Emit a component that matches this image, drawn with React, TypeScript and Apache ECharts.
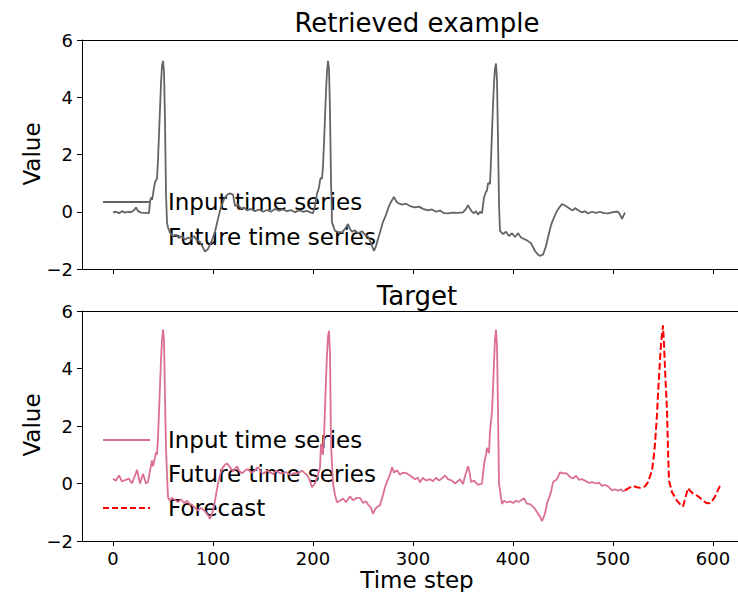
import React, { useEffect, useRef } from "react";
import * as echarts from "echarts";

const xTicks = [0, 100, 200, 300, 400, 500, 600];
const yTicks = [-2, 0, 2, 4, 6];

const retrievedInput: [number, number][] = [
  [0,-0.02],[3,0.0],[6,-0.05],[9,0.02],[12,-0.03],[15,0.0],[18,-0.02],[21,0.05],[23,0.15],[25,0.02],[28,-0.03],[32,-0.04],[36,-0.05],[37,0.35],[38,0.5],[39,0.42],[40,0.6],[41,0.85],[42,1.03],[43,1.1],[44,1.15],[45,1.8],[46,2.7],[47,3.6],[48,4.5],[49,5.1],[50,5.27],[51,4.9],[52,3.2],[53,0.63],[54,-0.37],[55,-0.55],[57,-0.73],[60,-0.85],[63,-0.8],[66,-0.92],[69,-0.85],[72,-0.98],[75,-0.9],[78,-0.95],[81,-0.85],[84,-1.0],[87,-1.05],[90,-1.25],[92,-1.39],[95,-1.3],[97,-1.15],[99,-1.0],[102,-0.7],[105,-0.25],[107,0.04],[110,0.35],[112,0.5],[115,0.62],[117,0.64],[120,0.6],[122,0.2],[125,0.25],[128,0.1],[131,0.15],[134,0.05],[138,0.1],[142,0.02],[146,0.08],[150,0.0],[154,0.06],[158,0.0],[162,0.1],[166,0.04],[170,0.08],[174,0.02],[178,0.06],[182,-0.02],[186,0.05],[190,0.0],[194,0.03],[198,-0.03],[200,-0.05],[202,0.2],[204,0.63],[206,0.85],[207,1.09],[208,1.2],[209,1.15],[210,1.6],[211,2.4],[212,3.3],[213,4.2],[214,4.9],[215,5.27],[216,5.0],[217,3.5],[218,1.1],[219,-0.37],[222,-0.67],[225,-0.7],[229,-0.72],[232,-0.6],[235,-0.43],[237,-0.6],[239,-0.7],[242,-0.65],[245,-0.75],[249,-0.68],[252,-0.8],[255,-0.87],[258,-1.1],[261,-1.37],[263,-1.2],[265,-0.95],[268,-0.6],[270,-0.35],[272,-0.2],[275,0.1],[277,0.28],[279,0.4],[281,0.52],[283,0.38],[285,0.3],[289,0.25],[293,0.28],[297,0.2],[302,0.15],[306,0.18],[310,0.1],[315,0.05],[319,0.08],[323,0.0],[327,0.04],[331,-0.05],[335,-0.06],[340,-0.03],[345,-0.04],[350,-0.02],[353,0.1],[355,0.23],[357,0.1],[359,0.0],[361,-0.05],[363,0.02],[365,-0.1],[367,0.0],[369,-0.05],[371,0.5],[373,0.7],[374,0.74],[375,0.99],[376,1.0],[377,0.96],[378,1.8],[379,2.8],[380,3.7],[381,4.5],[382,5.0],[383,5.18],[384,4.6],[385,2.5],[386,0.3],[387,-0.67],[390,-0.78],[393,-0.7],[396,-0.85],[399,-0.75],[402,-0.88],[405,-0.75],[408,-0.9],[411,-0.95],[414,-1.0],[418,-1.1],[422,-1.37],[425,-1.5],[427,-1.54],[430,-1.5],[433,-1.2],[435,-0.9],[437,-0.6],[439,-0.37],[441,-0.2],[444,0.03],[447,0.18],[449,0.27],[452,0.22],[455,0.15],[458,0.08],[460,0.05],[462,0.13],[465,0.05],[469,-0.02],[472,0.02],[475,-0.06],[479,0.0],[483,-0.04],[487,0.0],[491,-0.05],[495,-0.06],[499,-0.02],[503,0.0],[505,0.0],[507,-0.1],[509,-0.25],[511,-0.1],[512,-0.03]
];

const targetInput: [number, number][] = [
  [0,0.16],[3,0.1],[6,0.28],[9,0.07],[12,0.12],[16,0.17],[19,0.0],[22,0.28],[24,0.48],[27,0.0],[30,0.34],[33,0.0],[35,0.05],[37,0.45],[39,0.8],[40,0.6],[42,0.9],[43,1.09],[44,1.0],[45,1.6],[46,2.5],[47,3.4],[48,4.3],[49,5.0],[50,5.35],[51,5.0],[52,3.0],[53,1.2],[55,-0.48],[57,-0.6],[59,-0.5],[62,-0.57],[65,-0.65],[68,-0.55],[71,-0.68],[74,-0.6],[77,-0.72],[79,-0.74],[82,-0.85],[85,-0.94],[88,-0.85],[92,-0.97],[95,-1.1],[97,-1.23],[100,-0.94],[102,-0.6],[105,0.0],[107,0.3],[110,0.57],[112,0.65],[114,0.7],[117,0.57],[120,0.42],[122,0.5],[124,0.6],[126,0.45],[129,0.35],[132,0.45],[135,0.5],[138,0.38],[141,0.42],[145,0.57],[148,0.4],[151,0.35],[154,0.45],[157,0.4],[160,0.32],[163,0.45],[166,0.38],[169,0.34],[173,0.4],[177,0.3],[181,0.36],[185,0.35],[189,0.45],[192,0.35],[194,0.3],[197,0.1],[199,-0.13],[202,0.0],[205,0.3],[207,0.55],[208,1.38],[209,1.2],[210,1.0],[211,1.6],[212,2.6],[213,3.6],[214,4.5],[215,5.1],[216,5.31],[217,4.5],[218,1.4],[220,0.0],[222,-0.4],[224,-0.65],[227,-0.6],[230,-0.52],[233,-0.65],[237,-0.45],[240,-0.58],[244,-0.5],[247,-0.5],[250,-0.68],[253,-0.62],[255,-0.73],[258,-0.85],[260,-1.06],[262,-0.9],[264,-0.82],[267,-0.76],[270,-0.4],[272,-0.13],[275,0.15],[277,0.3],[279,0.57],[281,0.38],[284,0.46],[287,0.3],[290,0.38],[294,0.35],[298,0.25],[302,0.15],[305,0.2],[307,0.04],[310,0.2],[313,0.1],[317,0.15],[320,0.08],[323,0.2],[326,0.1],[329,0.18],[332,0.28],[335,0.15],[339,0.1],[342,0.0],[345,0.08],[347,0.15],[350,-0.02],[352,0.25],[355,0.6],[357,0.3],[358,0.05],[361,0.1],[365,-0.05],[369,0.0],[371,0.66],[373,1.0],[374,1.24],[376,1.05],[377,1.8],[379,2.5],[380,3.3],[381,4.2],[382,5.0],[383,5.35],[384,4.8],[385,2.5],[386,0.0],[389,-0.71],[391,-0.6],[394,-0.66],[397,-0.62],[400,-0.68],[403,-0.6],[406,-0.64],[409,-0.55],[411,-0.52],[414,-0.7],[417,-0.72],[419,-0.78],[422,-0.88],[424,-1.0],[427,-1.15],[429,-1.31],[432,-1.05],[434,-0.7],[436,-0.5],[438,-0.3],[440,0.05],[442,0.1],[444,0.15],[447,0.39],[450,0.35],[453,0.36],[455,0.3],[458,0.2],[460,0.18],[463,0.27],[466,0.13],[469,0.15],[472,0.1],[476,0.02],[479,0.05],[483,0.0],[486,0.03],[489,-0.08],[492,-0.05],[495,-0.1],[499,-0.24],[502,-0.2],[505,-0.25],[508,-0.2],[510,-0.27],[512,-0.24]
];

const forecast: [number, number][] = [
  [512,-0.24],[516,-0.15],[520,-0.09],[524,-0.13],[527,-0.15],[530,-0.12],[532,-0.1],[535,0.05],[537,0.25],[539,0.45],[541,1.0],[542,1.38],[544,2.4],[545,3.1],[547,4.3],[548,4.85],[550,5.5],[551,4.85],[552,4.0],[554,2.54],[555,1.2],[556,0.1],[559,-0.3],[562,-0.48],[564,-0.6],[567,-0.72],[570,-0.8],[572,-0.55],[575,-0.16],[577,-0.25],[580,-0.35],[584,-0.42],[587,-0.5],[590,-0.6],[594,-0.69],[597,-0.68],[599,-0.63],[602,-0.45],[604,-0.3],[606,-0.15],[608,0.0]
];

const FONT = "DejaVu Sans";
const GRAY = "#646464";
const PINK = "#DB7093";
const RED = "#FF0000";
const X_MIN = -31;
const X_MAX = 625;

export default function App() {
  const ref = useRef<HTMLDivElement>(null);
  useEffect(() => {
    if (!ref.current) return;
    const chart = echarts.init(ref.current, undefined, { renderer: "svg" });
    const fmt = (v: number) => String(v).replace("-", "\u2212");
    const bottomX = (grid: number, labels: boolean) => ({
      type: "value",
      gridIndex: grid,
      position: "bottom",
      min: X_MIN,
      max: X_MAX,
      splitLine: { show: false },
      axisLine: { show: true, onZero: false, lineStyle: { color: "#000", width: 1 } },
      axisTick: { show: true, length: 5, inside: false, customValues: xTicks, lineStyle: { color: "#000", width: 1 } },
      axisLabel: {
        show: labels,
        customValues: xTicks,
        margin: 8,
        fontFamily: FONT,
        fontSize: 18,
        color: "#000",
        formatter: fmt,
      },
    });
    const topX = (grid: number) => ({
      type: "value",
      gridIndex: grid,
      position: "top",
      min: X_MIN,
      max: X_MAX,
      splitLine: { show: false },
      axisLine: { show: true, onZero: false, lineStyle: { color: "#000", width: 1 } },
      axisTick: { show: false },
      axisLabel: { show: false },
    });
    const yAx = (grid: number) => ({
      type: "value",
      gridIndex: grid,
      min: -2,
      max: 6,
      interval: 2,
      splitLine: { show: false },
      axisLine: { show: true, onZero: false, lineStyle: { color: "#000", width: 1 } },
      axisTick: { show: true, length: 5, inside: false, lineStyle: { color: "#000", width: 1 } },
      axisLabel: {
        margin: 9,
        fontFamily: FONT,
        fontSize: 18,
        color: "#000",
        formatter: fmt,
        customValues: yTicks,
      },
    });
    const txt = (text: string, x: number, y: number, size: number, align = "left", rotation = 0) => ({
      type: "text",
      x,
      y,
      rotation,
      style: {
        text,
        fontFamily: FONT,
        fontSize: size,
        fill: "#000",
        textAlign: align,
        textVerticalAlign: "middle",
      },
    });
    const handle = (y: number, color: string, dash?: number[]) => ({
      type: "line",
      shape: { x1: 103, y1: y, x2: 150, y2: y },
      style: { stroke: color, lineWidth: 2, lineDash: dash },
    });
    chart.setOption({
      animation: false,
      backgroundColor: "#fff",
      grid: [
        { left: 82, top: 40, width: 656, height: 229, containLabel: false },
        { left: 82, top: 311, width: 656, height: 230, containLabel: false },
      ],
      xAxis: [bottomX(0, false), topX(0), bottomX(1, true), topX(1)],
      yAxis: [yAx(0), yAx(1)],
      series: [
        {
          name: "Input time series (retrieved)",
          type: "line",
          xAxisIndex: 0,
          yAxisIndex: 0,
          data: retrievedInput,
          showSymbol: false,
          lineStyle: { color: GRAY, width: 1.8 },
          itemStyle: { color: GRAY },
        },
        {
          name: "Input time series",
          type: "line",
          xAxisIndex: 2,
          yAxisIndex: 1,
          data: targetInput,
          showSymbol: false,
          lineStyle: { color: PINK, width: 1.8 },
          itemStyle: { color: PINK },
        },
        {
          name: "Forecast",
          type: "line",
          xAxisIndex: 2,
          yAxisIndex: 1,
          data: forecast,
          showSymbol: false,
          lineStyle: { color: RED, width: 2, type: [7, 3] },
          itemStyle: { color: RED },
        },
      ],
      graphic: [
        txt("Retrieved example", 417, 23, 26, "center"),
        txt("Target", 417, 296, 26, "center"),
        txt("Time step", 417, 580, 23, "center"),
        txt("Value", 32, 154, 23, "center", Math.PI / 2),
        txt("Value", 32, 425, 23, "center", Math.PI / 2),
        handle(202, GRAY),
        txt("Input time series", 168, 202, 23),
        txt("Future time series", 168, 237, 23),
        handle(440, PINK),
        txt("Input time series", 168, 440, 23),
        txt("Future time series", 168, 474, 23),
        handle(508, RED, [6, 3]),
        txt("Forecast", 168, 508, 23),
      ],
    });
    return () => chart.dispose();
  }, []);
  return (
    <div
      ref={ref}
      style={{ position: "fixed", left: 0, top: 0, width: 738, height: 592, background: "#fff" }}
    />
  );
}
